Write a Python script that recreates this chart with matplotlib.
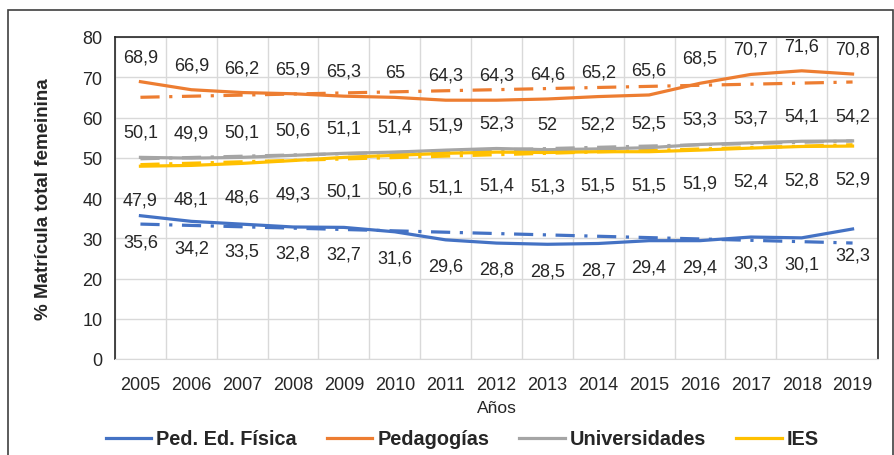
import numpy as np
import matplotlib.pyplot as plt
from matplotlib.patches import Rectangle
from matplotlib.lines import Line2D

plt.rcParams['font.family'] = ['Liberation Sans', 'DejaVu Sans']

# datos
anios = list(range(2005, 2020))
ped_ed_fisica = [35.6, 34.2, 33.5, 32.8, 32.7, 31.6, 29.6, 28.8, 28.5, 28.7, 29.4, 29.4, 30.3, 30.1, 32.3]
pedagogias = [68.9, 66.9, 66.2, 65.9, 65.3, 65.0, 64.3, 64.3, 64.6, 65.2, 65.6, 68.5, 70.7, 71.6, 70.8]
universidades = [50.1, 49.9, 50.1, 50.6, 51.1, 51.4, 51.9, 52.3, 52.0, 52.2, 52.5, 53.3, 53.7, 54.1, 54.2]
ies = [47.9, 48.1, 48.6, 49.3, 50.1, 50.6, 51.1, 51.4, 51.3, 51.5, 51.5, 51.9, 52.4, 52.8, 52.9]
nombres = ['Ped. Ed. Física', 'Pedagogías', 'Universidades', 'IES']

colores = ['#4472C4', '#ED7D31', '#A5A5A5', '#FFC000']
series = [ped_ed_fisica, pedagogias, universidades, ies]
# desplazamiento de las etiquetas (puntos): arriba o abajo de la linea
offsets = [-19, 18, 18, -24]

fig = plt.figure(figsize=(8.94, 4.56), dpi=100)
fig.patches.append(Rectangle((8 / 894, -0.01), 885 / 894, 1 - 11 / 456 + 0.01,
                             transform=fig.transFigure, fill=False,
                             edgecolor='#404040', lw=1.2))
ax = fig.add_axes([115 / 894, 1 - 360 / 456, 763 / 894, 322 / 456])

x = np.arange(len(anios))
for vals, col, off in zip(series, colores, offsets):
    ax.plot(x, vals, color=col, lw=2.3, zorder=3)
    # linea de tendencia lineal (como en Excel)
    a, b = np.polyfit(x, vals, 1)
    ax.plot(x, a * x + b, color=col, lw=2.3, ls=(0, (6, 3, 1, 3)), zorder=2)
    for xi, v in zip(x, vals):
        txt = f"{v:g}".replace('.', ',')
        ax.annotate(txt, (xi, v), xytext=(0, off), textcoords='offset points',
                    ha='center', va='center', fontsize=13, color='#262626',
                    zorder=4)

ax.set_xlim(-0.5, len(anios) - 0.5)
ax.set_ylim(0, 80)
ax.set_yticks(range(0, 81, 10))
ax.set_xticks(x)
ax.set_xticklabels([str(a) for a in anios])
ax.set_xticks(np.arange(-0.5, len(anios), 1), minor=True)
ax.grid(True, which='minor', axis='x', color='#D9D9D9', lw=1)
ax.grid(True, which='major', axis='y', color='#D9D9D9', lw=1)
ax.tick_params(which='both', length=0, labelsize=13, colors='#262626')
ax.tick_params(axis='x', pad=12)
ax.tick_params(axis='y', pad=9)
for s in ['left', 'top', 'right']:
    ax.spines[s].set_color('#262626')
    ax.spines[s].set_linewidth(1.2)
ax.spines['bottom'].set_color('#D9D9D9')
ax.set_axisbelow(True)

ax.set_ylabel('% Matrícula total femeinina', fontsize=13.5, fontweight='bold',
              color='#262626', labelpad=22)
ax.set_xlabel('Años', fontsize=12.5, color='#262626', labelpad=5)

handles = [Line2D([], [], color=c, lw=2.3) for c in colores]
leg = fig.legend(handles, nombres, loc='center', bbox_to_anchor=(0.517, 1 - 440 / 456),
                 ncol=4, frameon=False, handlelength=2.3, handletextpad=0.25,
                 columnspacing=1.5, prop={'size': 14.3, 'weight': 'bold'})
for t in leg.get_texts():
    t.set_color('#262626')

fig.savefig('out.png', dpi=100)
